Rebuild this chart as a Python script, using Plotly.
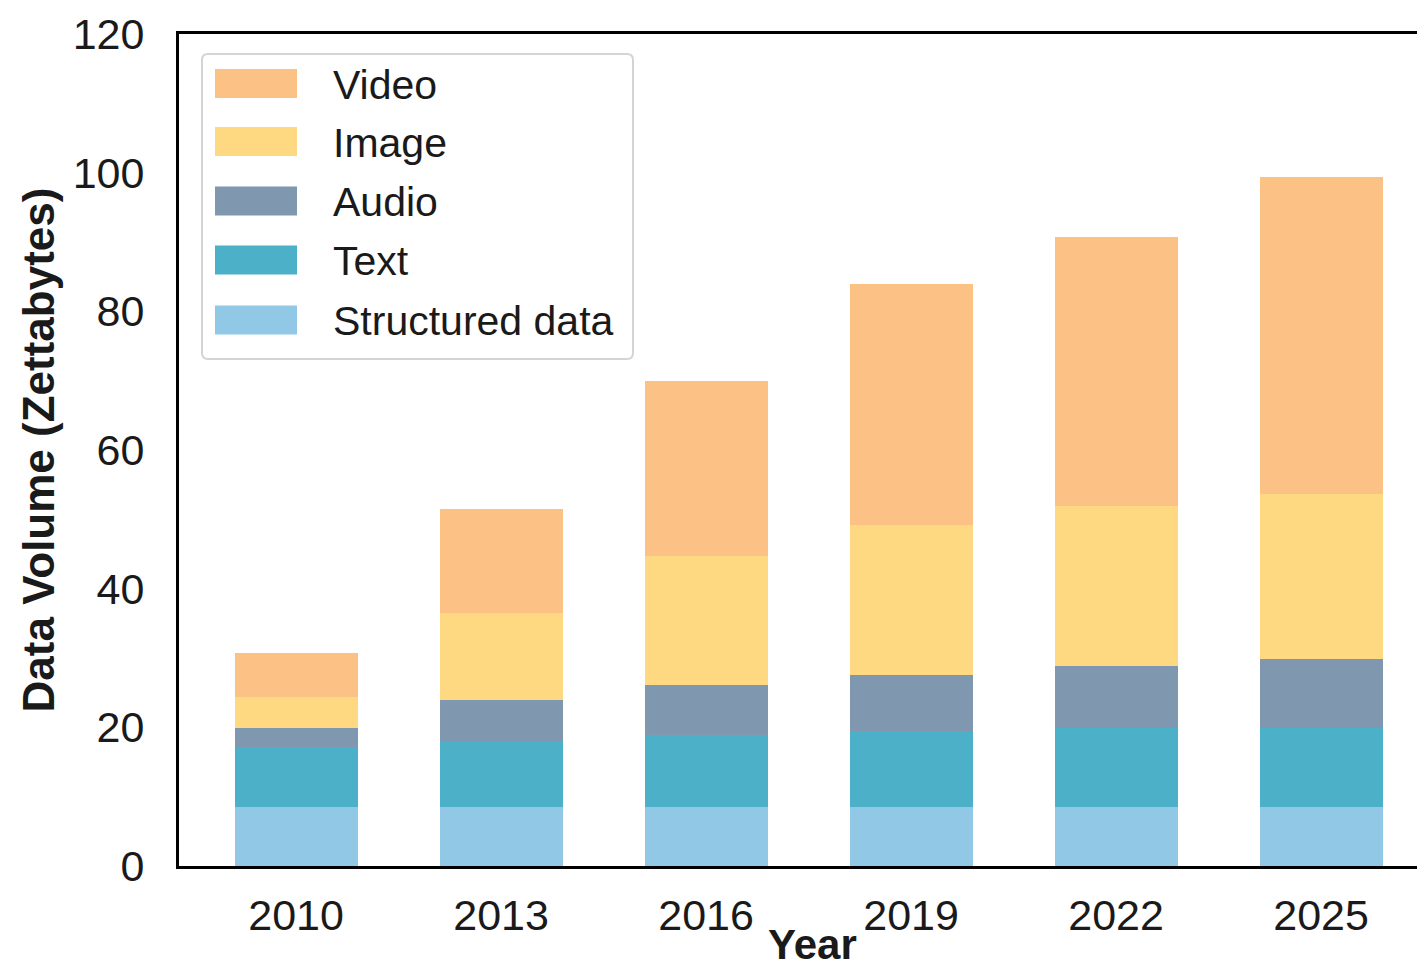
import plotly.graph_objects as go

years = ["2010", "2013", "2016", "2019", "2022", "2025"]
structured = [8.5, 8.5, 8.5, 8.5, 8.5, 8.5]
text_data = [8.7, 9.5, 10.4, 11.0, 11.4, 11.4]
audio = [2.7, 5.9, 7.2, 8.0, 8.9, 10.0]
image = [4.5, 12.6, 18.6, 21.7, 23.1, 23.8]
video = [6.3, 15.0, 25.3, 34.7, 38.8, 45.7]

series_names = ["Structured data", "Text", "Audio", "Image", "Video"]
series_values = [structured, text_data, audio, image, video]
series_colors = ["#91C8E5", "#4DB0C9", "#7F98AF", "#FED981", "#FBC185"]

y_ticks = [0, 20, 40, 60, 80, 100, 120]

OFF = 8  # default body margin of the html page
W, H = 1425 - OFF, 970 - OFF
ML, MR, MT, MB = 179 - OFF, 0, 34 - OFF, 104
PW, PH = W - ML - MR, H - MT - MB

FONT = "Liberation Sans, Arial, sans-serif"
TXT = "#1a1a1a"

fig = go.Figure()
for name, vals, col in zip(series_names, series_values, series_colors):
    fig.add_trace(go.Bar(x=years, y=vals, name=name, width=0.6,
                         marker=dict(color=col, line=dict(width=0)),
                         showlegend=False))


def px_x(p):  # screen pixel -> paper
    return (p - OFF - ML) / PW


def px_y(p):
    return (H - MB - (p - OFF)) / PH


# custom legend (matplotlib style)
bx0, bx1, by0, by1 = 202, 633, 54, 359
r = 6
rx, ry = r / PW, r / PH
X0, X1, Y0, Y1 = px_x(bx0), px_x(bx1), px_y(by1), px_y(by0)
path = (f"M{X0+rx},{Y0} L{X1-rx},{Y0} Q{X1},{Y0} {X1},{Y0+ry} "
        f"L{X1},{Y1-ry} Q{X1},{Y1} {X1-rx},{Y1} L{X0+rx},{Y1} "
        f"Q{X0},{Y1} {X0},{Y1-ry} L{X0},{Y0+ry} Q{X0},{Y0} {X0+rx},{Y0} Z")
shapes = [dict(type="path", path=path, xref="paper", yref="paper",
               line=dict(color="#d4d4d4", width=2), fillcolor="rgba(255,255,255,0.8)",
               layer="above")]
annotations = []
row_centers = [83.5, 141.5, 201, 260, 320]
for i, idx in enumerate(range(len(series_names) - 1, -1, -1)):
    cy = row_centers[i]
    shapes.append(dict(type="rect", xref="paper", yref="paper",
                       x0=px_x(215), x1=px_x(297), y0=px_y(cy + 14.5), y1=px_y(cy - 14.5),
                       fillcolor=series_colors[idx], line=dict(width=0), layer="above"))
    annotations.append(dict(x=px_x(331), y=px_y(cy + 1), xref="paper", yref="paper",
                            text=series_names[idx], showarrow=False, xanchor="left",
                            yanchor="middle", font=dict(family=FONT, size=41, color=TXT)))

# x-axis title placed like the reference (centred on the full original axes)
annotations.append(dict(x=px_x(812), y=px_y(944), xref="paper", yref="paper",
                        text="<b>Year</b>", showarrow=False, xanchor="center",
                        yanchor="middle", font=dict(family=FONT, size=42, color=TXT)))

fig.update_layout(
    template="none",
    width=W, height=H,
    margin=dict(l=ML, r=MR, t=MT, b=MB, pad=0, autoexpand=False),
    paper_bgcolor="white", plot_bgcolor="white",
    barmode="stack", bargap=0.4,
    shapes=shapes, annotations=annotations,
    font=dict(family=FONT, color=TXT),
)
fig.update_xaxes(type="category", range=[-0.571, 5.507], automargin=False,
                 showline=True, linecolor="black",
                 linewidth=3, mirror=True, ticks="", showgrid=False, zeroline=False,
                 tickfont=dict(family=FONT, size=43, color=TXT),
                 ticklabelstandoff=9)
fig.update_yaxes(range=[0, 120], tickvals=y_ticks, automargin=False,
                 showline=True, linecolor="black",
                 linewidth=3, mirror=False, ticks="", showgrid=False, zeroline=False,
                 tickfont=dict(family=FONT, size=43, color=TXT),
                 ticklabelstandoff=23,
                 title=dict(text="<b>Data Volume (Zettabytes)</b>", standoff=5,
                            font=dict(family=FONT, size=44, color=TXT)))

fig.write_html("out.html")
